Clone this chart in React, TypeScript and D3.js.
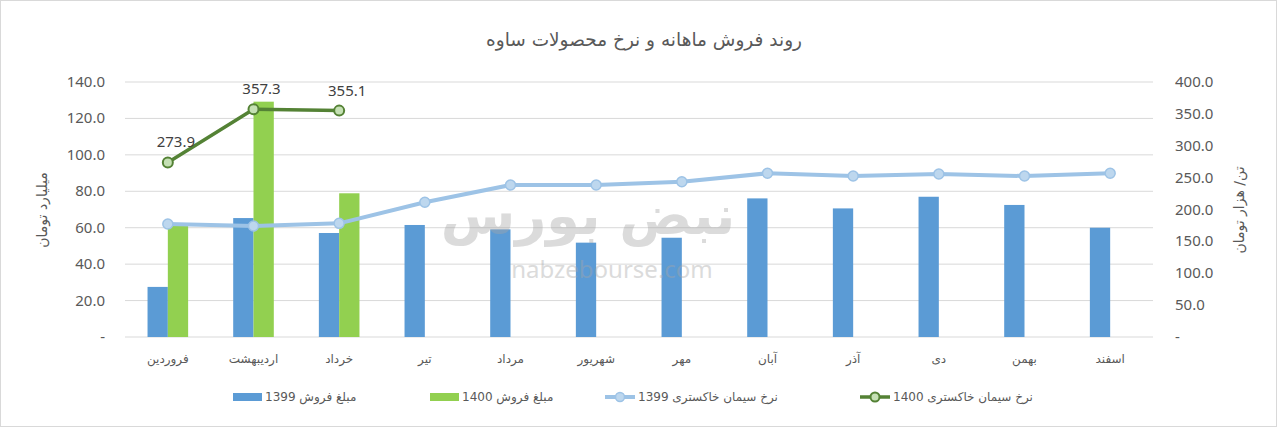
import React from 'react';
import * as d3 from 'd3';

const months = ['فروردین', 'اردیبهشت', 'خرداد', 'تیر', 'مرداد', 'شهریور', 'مهر', 'آبان', 'آذر', 'دی', 'بهمن', 'اسفند'];
const sales1399 = [27.5, 65.3, 57.1, 61.5, 59.1, 51.8, 54.5, 76.1, 70.6, 77.0, 72.5, 60.0];
const sales1400: (number | null)[] = [61.5, 129.2, 78.9, null, null, null, null, null, null, null, null, null];
const price1399 = [177.3, 174.1, 178.3, 211.3, 238.4, 238.4, 243.6, 256.8, 252.5, 255.7, 252.5, 256.8];
const price1400: (number | null)[] = [273.9, 357.3, 355.1, null, null, null, null, null, null, null, null, null];
const leftTicks = [0, 20, 40, 60, 80, 100, 120, 140];
const rightTicks = [0, 50, 100, 150, 200, 250, 300, 350, 400];

const title = 'روند فروش ماهانه و نرخ محصولات ساوه';
const leftTitle = 'میلیارد تومان';
const rightTitle = 'تن/ هزار تومان';
const legendLabels = ['مبلغ فروش 1399', 'مبلغ فروش 1400', 'نرخ سیمان خاکستری 1399', 'نرخ سیمان خاکستری 1400'];

const W = 1280;
const H = 427;
const plot = { left: 125, right: 1153, top: 82, bottom: 337 };
const C = {
  bar1399: '#5b9bd5',
  bar1400: '#92d050',
  line1399: '#9dc3e6',
  dot1399: '#bdd7ee',
  line1400: '#548235',
  dot1400: '#c5e0b4',
  grid: '#d9d9d9',
  text: '#595959',
};
const numFont = '"Noto Sans", "Open Sans", sans-serif';
const faFont = '"DejaVu Sans", sans-serif';

const fmt = (d: number) => (d === 0 ? '-' : d.toFixed(1));

const App: React.FC = () => {
  const x0 = d3.scaleBand<string>()
    .domain(months)
    .range([plot.left, plot.right])
    .paddingInner(0.526)
    .paddingOuter(0.263);
  const x1 = d3.scaleBand<string>()
    .domain(['1399', '1400'])
    .range([0, x0.bandwidth()]);
  const yL = d3.scaleLinear().domain([0, 140]).range([plot.bottom, plot.top]);
  const yR = d3.scaleLinear().domain([0, 400]).range([plot.bottom, plot.top]);
  const cx = (m: string) => (x0(m) ?? 0) + x0.bandwidth() / 2;

  const line = d3.line<{ m: string; v: number | null }>()
    .defined(d => d.v != null)
    .x(d => cx(d.m))
    .y(d => yR(d.v as number));

  const p1399 = months.map((m, i) => ({ m, v: price1399[i] as number | null }));
  const p1400 = months.map((m, i) => ({ m, v: price1400[i] }));

  // legend layout (x of symbol start)
  const legendX = [233, 430, 605, 860];
  const legendY = 397;

  return (
    <svg width={W} height={H} style={{ position: 'absolute', left: 0, top: 0, background: '#fff' }}>
      <rect x={0.5} y={0.5} width={1276} height={H - 1} fill="#fff" stroke={C.grid} />

      <text x={644} y={46} textAnchor="middle" fontFamily={faFont} fontSize={18.5} fill={C.text}>{title}</text>

      {/* gridlines */}
      {leftTicks.map(t => (
        <line key={t} x1={plot.left} x2={plot.right} y1={yL(t)} y2={yL(t)} stroke={C.grid} strokeWidth={1} />
      ))}

      {/* left axis labels */}
      {leftTicks.map(t => (
        <text key={t} x={105} y={yL(t) + 5} textAnchor="end" fontFamily={numFont} fontSize={15} fill={C.text}>{fmt(t)}</text>
      ))}
      {/* right axis labels */}
      {rightTicks.map(t => (
        <text key={t} x={1175} y={yR(t) + 5} textAnchor="start" fontFamily={numFont} fontSize={15} fill={C.text}>{fmt(t)}</text>
      ))}

      <text transform={`translate(47,210) rotate(-90)`} textAnchor="middle" fontFamily={faFont} fontSize={14} fill={C.text}>{leftTitle}</text>
      <text transform={`translate(1244,210) rotate(-90)`} textAnchor="middle" fontFamily={faFont} fontSize={14} fill={C.text}>{rightTitle}</text>

      {/* bars */}
      {months.map((m, i) => (
        <g key={m}>
          <rect x={(x0(m) ?? 0) + (x1('1399') ?? 0)} width={x1.bandwidth()} y={yL(sales1399[i])} height={yL(0) - yL(sales1399[i])} fill={C.bar1399} />
          {sales1400[i] != null && (
            <rect x={(x0(m) ?? 0) + (x1('1400') ?? 0)} width={x1.bandwidth()} y={yL(sales1400[i] as number)} height={yL(0) - yL(sales1400[i] as number)} fill={C.bar1400} />
          )}
        </g>
      ))}

      {/* x labels */}
      {months.map(m => (
        <text key={m} x={cx(m)} y={363} textAnchor="middle" fontFamily={faFont} fontSize={12} fill={C.text}>{m}</text>
      ))}

      {/* lines */}
      <path d={line(p1399) ?? ''} fill="none" stroke={C.line1399} strokeWidth={4} strokeLinejoin="round" />
      {p1399.map(d => (
        <circle key={d.m} cx={cx(d.m)} cy={yR(d.v as number)} r={5} fill={C.dot1399} stroke={C.line1399} strokeWidth={1.5} />
      ))}
      <path d={line(p1400) ?? ''} fill="none" stroke={C.line1400} strokeWidth={3.5} strokeLinejoin="round" />
      {p1400.filter(d => d.v != null).map(d => (
        <g key={d.m}>
          <circle cx={cx(d.m)} cy={yR(d.v as number)} r={5} fill={C.dot1400} stroke={C.line1400} strokeWidth={2} />
          <text x={cx(d.m) + 8} y={yR(d.v as number) - 15} textAnchor="middle" fontFamily={numFont} fontSize={15} fill="#404040">{(d.v as number).toFixed(1)}</text>
        </g>
      ))}

      {/* watermark, drawn over the plot */}
      <g opacity={0.4} fill="#a6a6a6">
        <text x={588} y={234} fontFamily={faFont} fontSize={54} fontWeight="bold" textAnchor="middle">نبض بورس</text>
        <text x={612} y={278} fontFamily={numFont} fontSize={24} textAnchor="middle">nabzebourse.com</text>
      </g>

      {/* legend */}
      <g fontFamily={faFont} fontSize={12} fill={C.text}>
        <rect x={legendX[0]} y={legendY - 4} width={29} height={8} fill={C.bar1399} />
        <text x={legendX[0] + 32} y={legendY + 4}>{legendLabels[0]}</text>
        <rect x={legendX[1]} y={legendY - 4} width={29} height={8} fill={C.bar1400} />
        <text x={legendX[1] + 32} y={legendY + 4}>{legendLabels[1]}</text>
        <line x1={legendX[2]} x2={legendX[2] + 30} y1={legendY} y2={legendY} stroke={C.line1399} strokeWidth={4} />
        <circle cx={legendX[2] + 15} cy={legendY} r={4.5} fill={C.dot1399} stroke={C.line1399} strokeWidth={1.5} />
        <text x={legendX[2] + 33} y={legendY + 4}>{legendLabels[2]}</text>
        <line x1={legendX[3]} x2={legendX[3] + 30} y1={legendY} y2={legendY} stroke={C.line1400} strokeWidth={3.5} />
        <circle cx={legendX[3] + 15} cy={legendY} r={4.5} fill={C.dot1400} stroke={C.line1400} strokeWidth={2} />
        <text x={legendX[3] + 33} y={legendY + 4}>{legendLabels[3]}</text>
      </g>
    </svg>
  );
};

export default App;
